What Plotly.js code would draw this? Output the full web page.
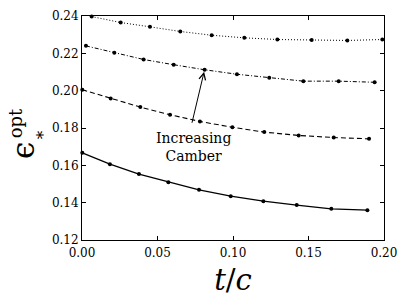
<!DOCTYPE html>
<html>
<head>
<meta charset="utf-8">
<script src="https://cdn.plot.ly/plotly-3.0.1.min.js"></script>
<style>html,body{margin:0;padding:0;background:#fff;}#chart{width:407px;height:305px;}</style>
</head>
<body>
<div id="chart"></div>
<script>
// t/c values and optimal epsilon for four camber levels (lowest to highest)
var tc1 = [0.0002, 0.0185, 0.0377, 0.0572, 0.0775, 0.0985, 0.1201, 0.1422, 0.1651, 0.1890];
var eps1 = [0.1667, 0.1606, 0.1553, 0.1510, 0.1469, 0.1435, 0.1408, 0.1387, 0.1367, 0.1360];

var tc2 = [0.0002, 0.0190, 0.0386, 0.0583, 0.0781, 0.0996, 0.1207, 0.1435, 0.1667, 0.1901];
var eps2 = [0.2005, 0.1958, 0.1912, 0.1871, 0.1835, 0.1804, 0.1778, 0.1760, 0.1749, 0.1742];

var tc3 = [0.0026, 0.0214, 0.0408, 0.0607, 0.0812, 0.1026, 0.1240, 0.1466, 0.1700, 0.1938];
var eps3 = [0.2240, 0.2203, 0.2167, 0.2139, 0.2112, 0.2088, 0.2069, 0.2051, 0.2051, 0.2045];

var tc4 = [0.0064, 0.0256, 0.0450, 0.0651, 0.0859, 0.1075, 0.1294, 0.1521, 0.1757, 0.1989];
var eps4 = [0.2397, 0.2365, 0.2342, 0.2317, 0.2297, 0.2283, 0.2274, 0.2272, 0.2269, 0.2274];

var xTicks = [0.00, 0.05, 0.10, 0.15, 0.20];
var xTickLabels = ['0.00', '0.05', '0.10', '0.15', '0.20'];
var yTicks = [0.12, 0.14, 0.16, 0.18, 0.20, 0.22, 0.24];
var yTickLabels = ['0.12', '0.14', '0.16', '0.18', '0.20', '0.22', '0.24'];

function tr(x, y, dash, w) {
  return {x: x, y: y, type: 'scatter', mode: 'lines+markers',
    line: {color: '#000', width: w, dash: dash},
    marker: {color: '#000', size: 4}, showlegend: false, cliponaxis: false};
}
var data = [
  tr(tc1, eps1, 'solid', 1.3),
  tr(tc2, eps2, '5px,3px', 1.1),
  tr(tc3, eps3, '4px,2px,1px,2px', 1),
  tr(tc4, eps4, '1px,2px', 1)
];

var serif = '"DejaVu Serif", "Liberation Serif", serif';
var layout = {
  width: 407, height: 305,
  margin: {l: 82, r: 23, t: 16, b: 65},
  paper_bgcolor: '#fff', plot_bgcolor: '#fff',
  font: {family: serif, size: 12, color: '#000'},
  xaxis: {range: [0, 0.20], tickvals: xTicks, ticktext: xTickLabels,
    ticks: 'inside', ticklen: 4, tickcolor: '#000', mirror: 'ticks',
    showline: true, linecolor: '#000', linewidth: 1, showgrid: false, zeroline: false,
    tickfont: {family: serif, size: 12, color: '#000'}, ticklabelstandoff: 2,
    title: {text: '<i>t</i>/<i>c</i>', font: {family: serif, size: 29, color: '#000'}, standoff: 10}},
  yaxis: {range: [0.12, 0.24], tickvals: yTicks, ticktext: yTickLabels,
    ticks: 'inside', ticklen: 4, tickcolor: '#000', mirror: 'ticks',
    showline: true, linecolor: '#000', linewidth: 1, showgrid: false, zeroline: false,
    tickfont: {family: serif, size: 12, color: '#000'}},
  annotations: [
    {xref: 'paper', yref: 'paper', x: -0.215, xshift: -14, y: 0.398, text: 'ϵ', showarrow: false,
      textangle: -90, font: {family: serif, size: 31, color: '#000'}},
    {xref: 'paper', yref: 'paper', x: -0.155, xshift: -4, y: 0.468, text: '*', showarrow: false,
      textangle: -90, font: {family: serif, size: 17, color: '#000'}},
    {xref: 'paper', yref: 'paper', x: -0.225, xshift: -11, y: 0.519, text: 'opt', showarrow: false,
      textangle: -90, font: {family: serif, size: 18, color: '#000'}},
    {x: 0.0812, y: 0.2112, ax: 0.0726, ay: 0.1820, axref: 'x', ayref: 'y',
      text: '', showarrow: true, arrowhead: 5, arrowsize: 1.3, arrowwidth: 1, arrowcolor: '#000', standoff: 2},
    {x: 0.0736, y: 0.1700, text: 'Increasing<br>Camber', showarrow: false,
      font: {family: serif, size: 14, color: '#000'}, align: 'center'}
  ]
};
Plotly.newPlot('chart', data, layout, {staticPlot: true, displayModeBar: false});
</script>
</body>
</html>
